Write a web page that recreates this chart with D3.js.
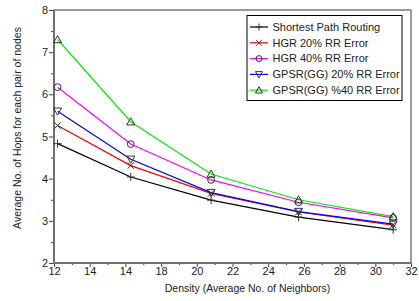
<!DOCTYPE html>
<html><head><meta charset="utf-8">
<script src="https://cdn.jsdelivr.net/npm/d3@7"></script>
<style>body{margin:0;background:#fff}svg{display:block}text{font-family:"Liberation Sans",Arial,sans-serif;fill:#222}</style>
</head><body><svg id="c" width="419" height="301"></svg>
<script>
const density = [12.2, 16.3, 20.8, 25.7, 31.0];
const seriesNames = ["Shortest Path Routing","HGR 20% RR Error","HGR 40% RR  Error","GPSR(GG) 20% RR Error","GPSR(GG) %40 RR Error"];
const shortestPath = [4.83, 4.04, 3.49, 3.09, 2.79];
const hgr20 = [5.26, 4.31, 3.65, 3.21, 2.90];
const hgr40 = [6.17, 4.82, 3.97, 3.44, 3.07];
const gpsr20 = [5.60, 4.46, 3.67, 3.22, 2.92];
const gpsr40 = [7.30, 5.35, 4.11, 3.50, 3.10];
const xTickValues = [12,14,16,18,20,22,24,26,28,30,32];
const xTickLabels = ["12","14","14","18","20","22","24","26","28","30","32"];
const yTickValues = [2,3,4,5,6,7,8];
const yTickLabels = ["2","3","4","5","6","7","8"];

const colors = ["#000000","#ff0000","#ff00ff","#0000ff","#00ee00"];
const markers = ["plus","x","circle","tridown","triup"];
const seriesData = [shortestPath, hgr20, hgr40, gpsr20, gpsr40];

const svg = d3.select("#c");
const L=54, R=411, T=10, B=263;
const x = d3.scaleLinear().domain([12,32]).range([L,R]);
const y = d3.scaleLinear().domain([2,8]).range([B,T]);

const gx = svg.append("g").attr("transform",`translate(0,${B})`)
  .call(d3.axisBottom(x).tickValues(xTickValues).tickFormat((d,i)=>xTickLabels[i]).tickSize(4).tickPadding(1));
const gxm = svg.append("g").attr("transform",`translate(0,${B})`)
  .call(d3.axisBottom(x).tickValues(d3.range(13,32,2)).tickFormat("").tickSize(2));
const gy = svg.append("g").attr("transform",`translate(${L},0)`)
  .call(d3.axisLeft(y).tickValues(yTickValues).tickFormat((d,i)=>yTickLabels[i]).tickSize(5).tickPadding(1));
const gym = svg.append("g").attr("transform",`translate(${L},0)`)
  .call(d3.axisLeft(y).tickValues(d3.range(2.5,8,1)).tickFormat("").tickSize(3));
[gx,gxm,gy,gym].forEach(g=>{g.select(".domain").remove();g.selectAll("line").attr("stroke","#444");g.selectAll("text").attr("font-size",11).attr("fill","#222").style("font-family","Liberation Sans, Arial, sans-serif");});
gx.selectAll("text").attr("dy","0.6em");

svg.append("rect").attr("x",L).attr("y",T).attr("width",R-L).attr("height",B-T).attr("fill","none").attr("stroke","#7a7a7a").attr("stroke-width",1.5);
svg.append("line").attr("x1",L).attr("x2",L).attr("y1",T).attr("y2",B).attr("stroke","#707070").attr("stroke-width",2);
svg.append("line").attr("x1",L).attr("x2",R).attr("y1",B).attr("y2",B).attr("stroke","#707070").attr("stroke-width",2);

function markerPath(type, s){
  const h=s/2;
  if(type==="plus") return `M${-h},0H${h}M0,${-h}V${h}`;
  if(type==="x") return `M${-h*0.8},${-h*0.8}L${h*0.8},${h*0.8}M${-h*0.8},${h*0.8}L${h*0.8},${-h*0.8}`;
  if(type==="circle") return `M${h*0.85},0A${h*0.85},${h*0.85} 0 1,1 ${-h*0.85},0A${h*0.85},${h*0.85} 0 1,1 ${h*0.85},0Z`;
  if(type==="tridown") return `M${-h},${-h*0.8}H${h}L0,${h}Z`;
  if(type==="triup") return `M${-h},${h*0.8}H${h}L0,${-h}Z`;
}

const line = d3.line().x((d,i)=>x(density[i])).y(d=>y(d));
seriesData.forEach((vals,k)=>{
  svg.append("path").datum(vals).attr("d",line).attr("fill","none").attr("stroke",colors[k]).attr("stroke-width",1.2);
});
seriesData.forEach((vals,k)=>{
  svg.append("g").selectAll("path").data(vals).join("path")
    .attr("transform",(d,i)=>`translate(${x(density[i])},${y(d)})`)
    .attr("d",markerPath(markers[k],8)).attr("fill","none").attr("stroke","#333").attr("stroke-width",1);
});

const lg = svg.append("g");
lg.append("rect").attr("x",247).attr("y",15.5).attr("width",155).attr("height",85).attr("fill","#fff").attr("stroke","#000").attr("stroke-width",1);
seriesNames.forEach((n,k)=>{
  const yy = 27 + k*15.8;
  lg.append("line").attr("x1",250).attr("x2",268).attr("y1",yy).attr("y2",yy).attr("stroke",colors[k]).attr("stroke-width",1.2);
  lg.append("path").attr("transform",`translate(259,${yy})`).attr("d",markerPath(markers[k],7)).attr("fill","none").attr("stroke","#333");
  lg.append("text").attr("x",272.5).attr("y",yy).attr("dy","0.35em").attr("font-size",11).text(n);
});

svg.append("text").attr("x",(L+R)/2+15).attr("y",292).attr("text-anchor","middle").attr("font-size",10.5).text("Density (Average No. of Neighbors)");
svg.append("text").attr("transform",`translate(21,128) rotate(-90)`).attr("text-anchor","middle").attr("font-size",10.5).text("Average No. of Hops for each pair of nodes");
</script></body></html>
